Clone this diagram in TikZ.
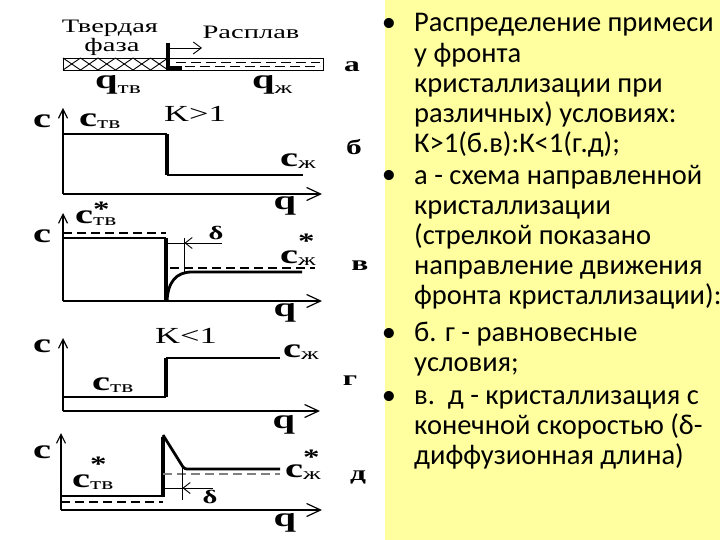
\documentclass[tikz,border=0pt]{standalone}
\usepackage{fontspec}
\setmainfont{Liberation Serif}
\newfontfamily\plotfont[FakeStretch=1.5]{Liberation Serif}
\newfontfamily\slidefont{Carlito}
\usetikzlibrary{arrows.meta}
\definecolor{slideyellow}{RGB}{255,255,160}

% labels with indices
\newcommand{\cidx}[1]{c\lower2pt\hbox{\mdseries\fontsize{17}{17}\selectfont #1}}
\newcommand{\cstar}[2]{c\rlap{\raise#1\hbox{\fontsize{22}{22}\selectfont *}}\lower2pt\hbox{\mdseries\fontsize{17}{17}\selectfont #2}}
\newcommand{\qidx}[1]{q\lower5pt\hbox{\mdseries\fontsize{17}{17}\selectfont #1}}

\begin{document}
\begin{tikzpicture}[x=1pt, y=-1pt,
  txt/.style={font=\plotfont\fontsize{19}{21}\selectfont, inner sep=0pt, anchor=base},
  clbl/.style={font=\plotfont\bfseries\fontsize{27}{29}\selectfont, inner sep=0pt, anchor=base west},
  tag/.style={font=\plotfont\bfseries\fontsize{21}{23}\selectfont, inner sep=0pt, anchor=base},
  vaxis/.style={line width=1.2pt, -{Straight Barb[length=9pt,width=9pt]}},
  haxis/.style={line width=1.2pt, -{Straight Barb[length=14pt,width=13pt]}},
  prof/.style={line width=2.8pt},
  front/.style={line width=4pt},
  thinln/.style={line width=0.9pt},
  guide/.style={line width=1.3pt, dash pattern=on 9pt off 5pt},
  delta/.style={line width=0.9pt, -{Straight Barb[length=7pt,width=11pt]}},
  bul/.style={font=\slidefont\fontsize{28.5}{30.2}\selectfont, inner sep=0pt, anchor=base},
  itemtxt/.style={font=\slidefont\fontsize{28.5}{30.2}\selectfont, inner sep=0pt, anchor=base west, align=left}]

  \useasboundingbox (0,0) rectangle (720,540);
  \fill[slideyellow] (385,0) rectangle (720,540);

  % Panel a: sample with front
  \draw[thinln] (63,58) rectangle (323,70);
  \foreach \i in {0,...,5} {
    \draw[thinln] (63+\i*17.5,58) -- (80.5+\i*17.5,70);
    \draw[thinln] (63+\i*17.5,70) -- (80.5+\i*17.5,58);
  }
  \draw[thinln, dash pattern=on 10pt off 5pt] (176,62) -- (320,62);
  \draw[thinln, dash pattern=on 10pt off 5pt, dash phase=6pt] (176,66) -- (320,66);
  \draw[front] (168,43) -- (168,70);
  \draw[front] (168,68) -- (182,68);
  \draw[thinln, -{Straight Barb[length=8pt,width=12pt]}] (168,48) -- (202,48);
  \node[txt] (solid) at (110,33) {Твердая};
  \node[txt] (phase) at (112,52) {фаза};
  \node[txt] (melt) at (251,39) {Расплав};
  \node[clbl] (qs) at (95,89) {\qidx{тв}};
  \node[clbl] (ql) at (252,89) {\qidx{ж}};
  \node[tag] (taga) at (352,72) {а};

  % Panel b: K>1, equilibrium
  \draw[vaxis] (63,194) -- (63,108);
  \draw[haxis] (63,194) -- (322,194);
  \draw[prof] (63,134) -- (167,134);
  \draw[front] (167,134) -- (167,175);
  \draw[prof] (167,175) -- (303,175);
  \node[clbl, anchor=base] (cb) at (42,128) {c};
  \node[clbl] (csb) at (79,127) {\cidx{тв}};
  \node[txt, font=\plotfont\fontsize{23}{25}\selectfont] (kb) at (195,122) {K>1};
  \node[clbl] (clb) at (280,167) {\cidx{ж}};
  \node[tag] (tagb) at (354,155) {б};
  \node[clbl, anchor=base] (qb) at (285,210) {q};

  % Panel v: K>1, finite rate
  \draw[vaxis] (63,301) -- (63,213);
  \draw[haxis] (63,301) -- (322,301);
  \draw[guide] (63,233) -- (166,233);
  \draw[prof] (63,238) -- (166,238);
  \draw[front] (166,238) -- (166,301);
  \draw[prof] (167,301) .. controls (168,282) and (176,272) .. (192,272) -- (302,272);
  \draw[guide] (170,268) -- (315,268);
  \draw[thinln] (167,243) -- (222,243);
  \draw[thinln] (184,238) -- (184,272);
  \draw[delta] (199,243) -- (184.5,243);
  \node[clbl, anchor=base] (cv) at (42,243) {c};
  \node[clbl] (csv) at (75,223) {\cstar{7pt}{тв}};
  \node[tag, font=\plotfont\bfseries\fontsize{19}{21}\selectfont] (dv) at (216,240) {δ};
  \node[clbl] (clv) at (280,263) {\cstar{15pt}{ж}};
  \node[tag] (tagv) at (360,270) {в};
  \node[clbl, anchor=base] (qv) at (285,316) {q};

  % Panel g: K<1, equilibrium
  \draw[vaxis] (63,411) -- (63,338);
  \draw[haxis] (63,411) -- (320,411);
  \draw[prof] (63,397) -- (166,397);
  \draw[front] (166,397) -- (166,358);
  \draw[prof] (166,358) -- (280,358);
  \node[clbl, anchor=base] (cg) at (42,352) {c};
  \node[txt, font=\plotfont\fontsize{23}{25}\selectfont] (kg) at (186,343) {K<1};
  \node[clbl] (csg) at (92,390) {\cidx{тв}};
  \node[clbl] (clg) at (283,357) {\cidx{ж}};
  \node[tag] (tagg) at (350,385) {г};
  \node[clbl, anchor=base] (qg) at (284,428) {q};

  % Panel d: K<1, finite rate
  \draw[vaxis] (61,510) -- (61,433);
  \draw[haxis] (61,510) -- (322,510);
  \draw[prof] (61,496) -- (163,496);
  \draw[front] (163,497) -- (163,437);
  \draw[prof] (163,435) -- (183,467) .. controls (185,469) .. (190,469) -- (280,469);
  \draw[guide] (61,502) -- (163,502);
  \draw[guide, gray] (163,474) -- (280,474);
  \draw[thinln] (182,467) -- (182,500);
  \draw[thinln] (163,488) -- (213,488);
  \draw[delta] (197,488) -- (182.5,488);
  \node[clbl, anchor=base] (cd) at (42,458) {c};
  \node[clbl] (csd) at (72,487) {\cstar{16pt}{тв}};
  \node[tag, font=\plotfont\bfseries\fontsize{19}{21}\selectfont] (dd) at (210,503) {δ};
  \node[clbl] (cld) at (285,477) {\cstar{13pt}{ж}};
  \node[tag] (tagd) at (358,480) {д};
  \node[clbl, anchor=base] (qd) at (285,526) {q};

  % Bullet list (anchored at the last line)
  \node[bul] (b1) at (389,32) {•};
  \node[itemtxt] (t1) at (414,152.8) {Распределение примеси\\у фронта\\кристаллизации при\\различных) условиях:\\К>1(б.в):К<1(г.д);};
  \node[bul] (b2) at (389,184) {•};
  \node[itemtxt] (t2) at (414,304.8) {а - схема направленной\\кристаллизации\\(стрелкой показано\\направление движения\\фронта кристаллизации):};
  \node[bul] (b3) at (389,341) {•};
  \node[itemtxt] (t3) at (414,371.2) {б. г - равновесные\\условия;};
  \node[bul] (b4) at (389,404) {•};
  \node[itemtxt] (t4) at (414,464.4) {в.\ \ д - кристаллизация с\\конечной скоростью (δ-\\диффузионная длина)};
\end{tikzpicture}
\end{document}
